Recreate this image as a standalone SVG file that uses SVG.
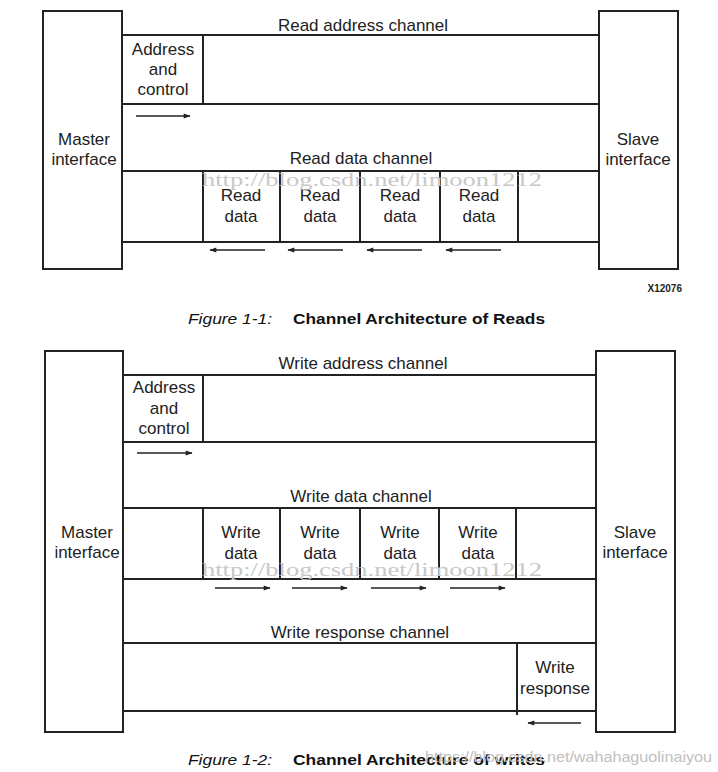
<svg xmlns="http://www.w3.org/2000/svg" width="718" height="772" viewBox="0 0 718 772">
<defs>
<style>
.ln{stroke:#222;stroke-width:2;fill:none}
.bx{stroke:#222;stroke-width:2;fill:#fff}
.t{font-family:"Liberation Sans",Arial,sans-serif;font-size:17px;fill:#222;text-anchor:middle}
.ar{stroke:#222;stroke-width:1.3;fill:none}
.wm{font-family:"Liberation Serif","DejaVu Serif",serif;font-size:19px;fill:#c8c8c8}
.cap{font-family:"Liberation Sans",Arial,sans-serif;font-size:15.5px;fill:#111}
</style>
<marker id="ah" viewBox="0 0 10 10" refX="9" refY="5" markerWidth="8" markerHeight="7" markerUnits="userSpaceOnUse" orient="auto">
<path d="M0,1.5 L10,5 L0,8.5 Z" fill="#222"/>
</marker>
</defs>
<rect width="718" height="772" fill="#fff"/>

<!-- Figure 1 -->
<g id="fig1-master"><rect class="bx" x="43" y="11" width="79" height="258"/><text class="t" x="84" y="145">Master</text><text class="t" x="84" y="165">interface</text></g>
<g id="fig1-slave"><rect class="bx" x="599" y="11" width="79" height="258"/><text class="t" x="638" y="145">Slave</text><text class="t" x="638" y="165">interface</text></g>
<g id="fig1-raddr"><text class="t" x="363" y="31">Read address channel</text>
<text class="t" x="163" y="55">Address</text><text class="t" x="163" y="75">and</text><text class="t" x="163" y="95">control</text></g>
<g id="fig1-rdata"><text class="t" x="361" y="164">Read data channel</text>
<text class="t" x="241" y="201">Read</text><text class="t" x="241" y="222">data</text>
<text class="t" x="320" y="201">Read</text><text class="t" x="320" y="222">data</text>
<text class="t" x="400" y="201">Read</text><text class="t" x="400" y="222">data</text>
<text class="t" x="479" y="201">Read</text><text class="t" x="479" y="222">data</text></g>
<g id="fig1-connectors">
<path class="ln" d="M122,35H599M122,104H599M203,35V104M122,171H599M122,242H599M203,171V242M280,171V242M360,171V242M440,171V242M518,171V242"/>
<path class="ar" marker-end="url(#ah)" d="M136,116H190"/>
<path class="ar" marker-end="url(#ah)" d="M265,250H210"/>
<path class="ar" marker-end="url(#ah)" d="M343,250H288"/>
<path class="ar" marker-end="url(#ah)" d="M422,250H367"/>
<path class="ar" marker-end="url(#ah)" d="M501,250H446"/>
</g>
<text x="682" y="292" style="font-family:'Liberation Sans',Arial,sans-serif;font-size:10px;font-weight:bold;fill:#222;text-anchor:end">X12076</text>
<text class="cap" x="188" y="324" font-style="italic" textLength="84" lengthAdjust="spacingAndGlyphs">Figure 1-1:</text>
<text class="cap" x="293" y="324" font-weight="bold" textLength="252" lengthAdjust="spacingAndGlyphs">Channel Architecture of Reads</text>

<!-- Figure 2 -->
<g id="fig2-master"><rect class="bx" x="45" y="351" width="78" height="381"/><text class="t" x="87" y="538">Master</text><text class="t" x="87" y="558">interface</text></g>
<g id="fig2-slave"><rect class="bx" x="596" y="351" width="79" height="381"/><text class="t" x="635" y="538">Slave</text><text class="t" x="635" y="558">interface</text></g>
<g id="fig2-waddr"><text class="t" x="363" y="369">Write address channel</text>
<text class="t" x="164" y="393">Address</text><text class="t" x="164" y="414">and</text><text class="t" x="164" y="434">control</text></g>
<g id="fig2-wdata"><text class="t" x="361" y="502">Write data channel</text>
<text class="t" x="241" y="538">Write</text><text class="t" x="241" y="559">data</text>
<text class="t" x="320" y="538">Write</text><text class="t" x="320" y="559">data</text>
<text class="t" x="400" y="538">Write</text><text class="t" x="400" y="559">data</text>
<text class="t" x="478" y="538">Write</text><text class="t" x="478" y="559">data</text></g>
<g id="fig2-wresp"><text class="t" x="360" y="638">Write response channel</text>
<text class="t" x="555" y="673">Write</text><text class="t" x="555" y="694">response</text></g>
<g id="fig2-connectors">
<path class="ln" d="M123,375H596M123,442H596M203,375V442M123,508H596M123,579H596M203,508V579M280,508V579M360,508V579M439,508V579M516,508V579M123,643H596M123,711H596M517,643V715"/>
<path class="ar" marker-end="url(#ah)" d="M137,453H192"/>
<path class="ar" marker-end="url(#ah)" d="M215,588H270"/>
<path class="ar" marker-end="url(#ah)" d="M292,588H347"/>
<path class="ar" marker-end="url(#ah)" d="M371,588H426"/>
<path class="ar" marker-end="url(#ah)" d="M450,588H505"/>
<path class="ar" marker-end="url(#ah)" d="M581,723H528"/>
</g>
<text class="cap" x="188" y="765" font-style="italic" textLength="84" lengthAdjust="spacingAndGlyphs">Figure 1-2:</text>
<text class="cap" x="293" y="765" font-weight="bold" textLength="252" lengthAdjust="spacingAndGlyphs">Channel Architecture of writes</text>

<!-- watermarks -->
<text class="wm" x="202" y="186" textLength="340" lengthAdjust="spacingAndGlyphs">http://blog.csdn.net/limoon1212</text>
<text class="wm" x="202" y="576" textLength="340" lengthAdjust="spacingAndGlyphs">http://blog.csdn.net/limoon1212</text>
<text x="425" y="762" textLength="287" lengthAdjust="spacingAndGlyphs" style="font-family:'Liberation Sans',Arial,sans-serif;font-size:14px;fill:#c0c0c0">https://blog.csdn.net/wahahaguolinaiyou</text>
</svg>
